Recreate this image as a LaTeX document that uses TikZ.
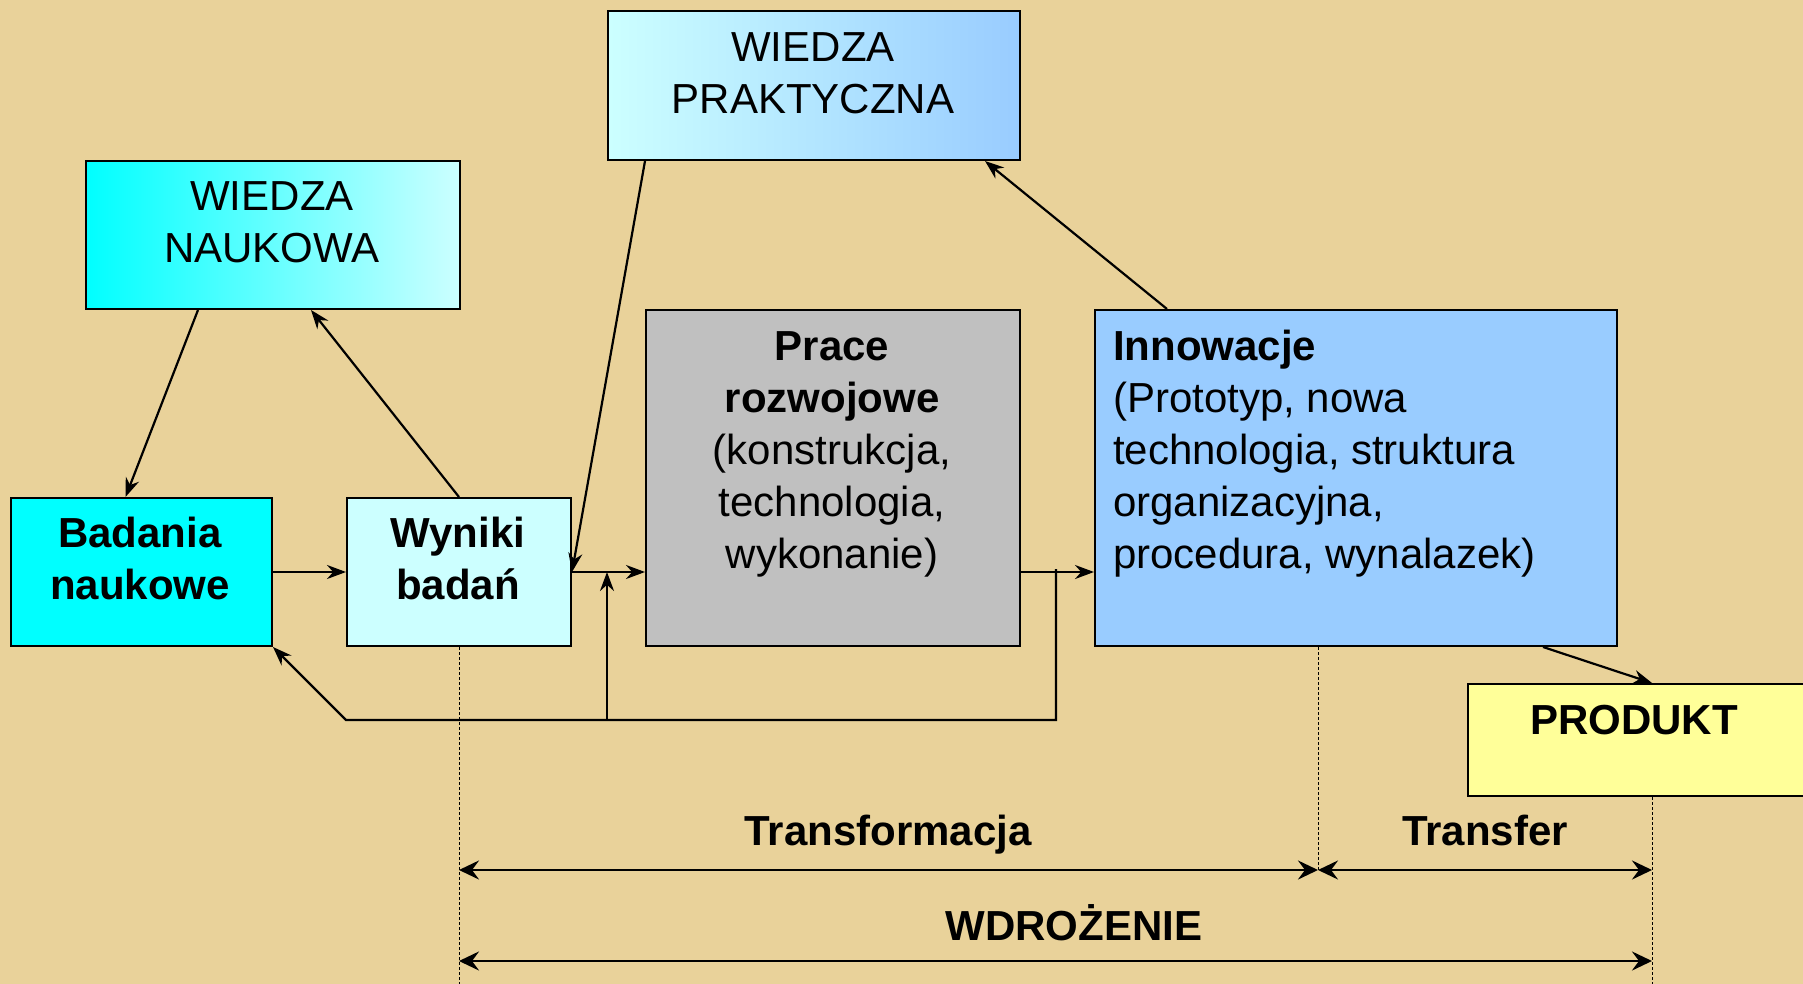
\documentclass[tikz,border=0pt]{standalone}
\usepackage{fontspec}
\setmainfont{Liberation Sans}
\usetikzlibrary{arrows.meta,calc}
\definecolor{bg}{RGB}{233,210,154}
\definecolor{cyanA}{RGB}{0,255,255}
\definecolor{cyanL}{RGB}{204,255,255}
\definecolor{blueL}{RGB}{153,204,255}
\definecolor{greyB}{RGB}{192,192,192}
\definecolor{yelL}{RGB}{255,255,153}
\begin{document}
\begin{tikzpicture}[x=1pt,y=-1pt,
  box/.style={draw=black,line width=2pt,anchor=north west,inner sep=0pt,rectangle},
  txt/.style={font=\fontsize{42}{52}\selectfont,align=center,inner sep=0pt},
  btxt/.style={font=\fontsize{42}{52}\selectfont\bfseries,align=center,inner sep=0pt},
  arr/.style={line width=2.2pt,-{Stealth[length=19pt,width=14pt]}},
  dimarr/.style={line width=2.8pt,{Stealth[length=20pt,width=19pt,inset=7pt]}-{Stealth[length=20pt,width=19pt,inset=7pt]}},
  guide/.style={line width=0.8pt,dash pattern=on 3pt off 2pt}
]
\useasboundingbox (0,0) rectangle (1803,984);
\fill[bg] (0,0) rectangle (1803,984);

% boxes
\node[box,left color=cyanA,right color=cyanL,minimum width=374pt,minimum height=148pt] (wn) at (85,160) {};
\node[box,fill=cyanA,minimum width=261pt,minimum height=148pt] (bad) at (10,497) {};
\node[box,fill=cyanL,minimum width=224pt,minimum height=148pt] (wyn) at (346,497) {};
\node[box,left color=cyanL,right color=blueL,minimum width=412pt,minimum height=149pt] (wp) at (607,10) {};
\node[box,fill=greyB,minimum width=374pt,minimum height=336pt] (pr) at (645,309) {};
\node[box,fill=blueL,minimum width=522pt,minimum height=336pt] (inn) at (1094,309) {};
\node[box,fill=yelL,minimum width=336pt,minimum height=112pt] (prod) at (1467,683) {};

% texts
\node[txt] (wnT) at (272,222) {WIEDZA\\NAUKOWA};
\node[txt] (wpT) at (813,73) {WIEDZA\\PRAKTYCZNA};
\node[btxt] (badT) at (140,558) {Badania\\naukowe};
\node[btxt] (wynT) at (458,558) {Wyniki\\badań};
\node[txt] (prT) at (832,454) {\textbf{Prace}\\\textbf{rozwojowe}\\(konstrukcja,\\technologia,\\wykonanie)};
\node[txt,align=left,anchor=west] (innT) at (1113,454) {\textbf{Innowacje}\\(Prototyp, nowa\\technologia, struktura\\organizacyjna,\\procedura, wynalazek)};
\node[btxt,anchor=base] (prodT) at (1634,734) {PRODUKT};

% connectors
\draw[arr] ([xshift=-75pt]wn.south) -- ([xshift=-16pt]bad.north);
\draw[arr] (wyn.north) -- ([xshift=38pt]wn.south);
\draw[arr] (bad.east |- wyn.east) -- (wyn.east -| wyn.west);
\draw[arr] ([xshift=38pt]wp.south west) -- (wyn.east);
\draw[arr] (wyn.east) -- (pr.west |- wyn.east);
\draw[arr] (pr.east |- wyn.east) -- (inn.west |- wyn.east);
\draw[arr] ([xshift=73pt]inn.north west) -- ([xshift=-36pt]wp.south east);
\draw[arr] ([xshift=-75pt]inn.south east) -- ([xshift=185pt]prod.north west);

\coordinate (fb) at (1056,569);
\coordinate (loopL) at (346,720);
\coordinate (up0) at (607,720);
\draw[arr] (fb) |- (loopL) -- (bad.south east);
\draw[arr] (up0) -- (up0 |- wyn.east);

% guides
\coordinate (gA) at (459,984);
\coordinate (gB) at (1318,870);
\coordinate (gC) at (1652,984);
\draw[guide] (wyn.south -| gA) -- (gA);
\draw[guide] (inn.south -| gB) -- (gB);
\draw[guide] (prod.south -| gC) -- (gC);

\coordinate (tA) at (459,870);
\coordinate (tC) at (1652,870);
\coordinate (wA) at (459,961);
\coordinate (wC) at (1652,961);
\draw[dimarr] (tA) -- (gB);
\draw[dimarr] (gB) -- (tC);
\draw[dimarr] (wA) -- (wC);

\node[btxt,anchor=base] (lTr) at (888,845) {Transformacja};
\node[btxt,anchor=base] (lTf) at (1485,845) {Transfer};
\node[btxt,anchor=base] (lW) at (1074,940) {WDROŻENIE};
\end{tikzpicture}
\end{document}
